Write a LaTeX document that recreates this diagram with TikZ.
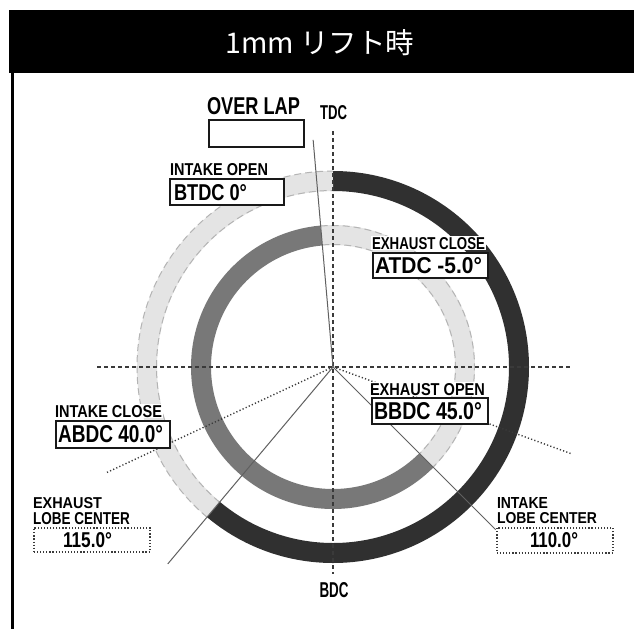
\documentclass[tikz,border=0pt]{standalone}
\usepackage{fontspec}
\usepackage{graphicx}
\usetikzlibrary{calc}
\newfontfamily\cjk{Noto Sans CJK JP}
\newfontfamily\lblfont{Liberation Sans}
\definecolor{ringdark}{HTML}{303030}
\definecolor{ringgray}{HTML}{787878}
\definecolor{ringlight}{HTML}{E4E4E4}
\definecolor{ringedge}{HTML}{B4B4B4}
\definecolor{linegray}{HTML}{606060}
\definecolor{dotgray}{HTML}{3A3A3A}
\newcommand\lbl[3]{\resizebox{#1pt}{#2pt}{\lblfont\bfseries #3}}
\tikzset{
  txt/.style={inner sep=0pt, outer sep=0pt, anchor=base west, text=black},
  txtw/.style={inner sep=1.2pt, outer sep=0pt, anchor=base west, text=black, fill=white},
  valbox/.style={draw=black!90, line width=2pt, fill=white, anchor=north west, inner sep=0pt},
  dotbox/.style={draw=dotgray, line width=1.6pt, dash pattern=on 1.2pt off 1.9pt, fill=white, anchor=north west, inner sep=0pt},
  crossline/.style={draw=dotgray, line width=1.3pt, dash pattern=on 3.5pt off 3.5pt},
  dotline/.style={draw=dotgray, line width=1.4pt, dash pattern=on 1.2pt off 2.2pt},
  ray/.style={draw=linegray, line width=1pt},
  lightedge/.style={draw=ringedge, line width=1pt, dash pattern=on 7pt off 4pt},
}
\begin{document}
\begin{tikzpicture}[x=1pt,y=-1pt]
\useasboundingbox (0,0) rectangle (634,629);
\fill[white] (0,0) rectangle (634,629);
% header
\fill[black] (9,10) rectangle (634,73);
\draw[black, line width=3pt] (12.5,73) -- (12.5,629);
\node[inner sep=0pt, anchor=base, text=white, font=\cjk\fontsize{28.5}{32}\selectfont] (title) at (320,53) {1mm リフト時};

\coordinate (c) at (333,367);
% outer ring
\draw[ringdark, line width=20pt] (c) ++(-90:186) arc[start angle=-90, end angle=130, radius=186];
\draw[ringlight, line width=20pt] (c) ++(130:186) arc[start angle=130, end angle=270, radius=186];
\draw[lightedge] (c) ++(130:196) arc[start angle=130, end angle=270, radius=196];
\draw[lightedge] (c) ++(130:176.5) arc[start angle=130, end angle=270, radius=176.5];
% inner ring
\draw[ringgray, line width=20pt] (c) ++(45:132) arc[start angle=45, end angle=265, radius=132];
\draw[ringlight, line width=20pt] (c) ++(265:132) arc[start angle=265, end angle=405, radius=132];
\draw[lightedge] (c) ++(265:141.5) arc[start angle=265, end angle=405, radius=141.5];
\draw[lightedge] (c) ++(265:122.5) arc[start angle=265, end angle=405, radius=122.5];

% cross lines
\coordinate (vtop) at (333,131);
\coordinate (vbot) at (333,574);
\coordinate (hl) at (97,367);
\coordinate (hr) at (570,367);
\draw[crossline] (vtop) -- (vbot);
\draw[crossline] (hl) -- (hr);

% lobe center dotted rays
\coordinate (exlc) at ($(c)+(155:250)$);
\coordinate (inlc) at ($(c)+(20:253)$);
\draw[dotline] (c) -- (exlc);
\draw[dotline] (c) -- (inlc);
% solid rays
\coordinate (ovl) at ($(c)+(-95:228)$);
\coordinate (exo) at ($(c)+(45:230)$);
\coordinate (inc) at ($(c)+(130:257)$);
\draw[ray] (c) -- (ovl);
\draw[ray] (c) -- (exo);
\draw[ray] (c) -- (inc);

% labels
\node[txt] (tdc) at (320,119) {\lbl{27}{14}{TDC}};
\node[txt] (bdc) at (319.5,597) {\lbl{29}{15}{BDC}};

\node[txt] (ovlbl) at (207,114) {\lbl{93}{17}{OVER LAP}};
\node[valbox, minimum width=95pt, minimum height=27pt] (ovbox) at (208,119) {};

\node[txt] (iolbl) at (170,175) {\lbl{98}{12}{INTAKE OPEN}};
\node[valbox, minimum width=114pt, minimum height=26pt] (iobox) at (169,178) {};
\node[txt] (ioval) at (174,200) {\lbl{73}{16}{BTDC 0°}};

\node[txtw] (eclbl) at (370.8,249) {\lbl{113}{12}{EXHAUST CLOSE}};
\node[valbox, minimum width=115pt, minimum height=25pt] (ecbox) at (372,252) {};
\node[txt] (ecval) at (375,273) {\lbl{107}{16}{ATDC -5.0°}};

\node[txtw] (eolbl) at (368.8,395) {\lbl{115}{12}{EXHAUST OPEN}};
\node[valbox, minimum width=116pt, minimum height=26pt] (eobox) at (371,397) {};
\node[txt] (eoval) at (374,419) {\lbl{108}{17}{BBDC 45.0°}};

\node[txtw] (iclbl) at (53.8,417) {\lbl{107}{12}{INTAKE CLOSE}};
\node[valbox, minimum width=114pt, minimum height=27pt] (icbox) at (55,420) {};
\node[txt] (icval) at (58,442) {\lbl{105}{17}{ABDC 40.0°}};

\node[txt] (exl1) at (33,508) {\lbl{69}{11}{EXHAUST}};
\node[txt] (exl2) at (33,524) {\lbl{97}{12}{LOBE CENTER}};
\node[dotbox, minimum width=116pt, minimum height=24pt] (exlbox) at (33,527) {};
\node[txt] (exlval) at (63,547) {\lbl{49}{15}{115.0°}};

\node[txt] (inl1) at (497,508) {\lbl{51}{11}{INTAKE}};
\node[txt] (inl2) at (497,523) {\lbl{100}{11}{LOBE CENTER}};
\node[dotbox, minimum width=116pt, minimum height=25pt] (inlbox) at (496,527) {};
\node[txt] (inlval) at (530,547) {\lbl{48}{15}{110.0°}};
\end{tikzpicture}
\end{document}
